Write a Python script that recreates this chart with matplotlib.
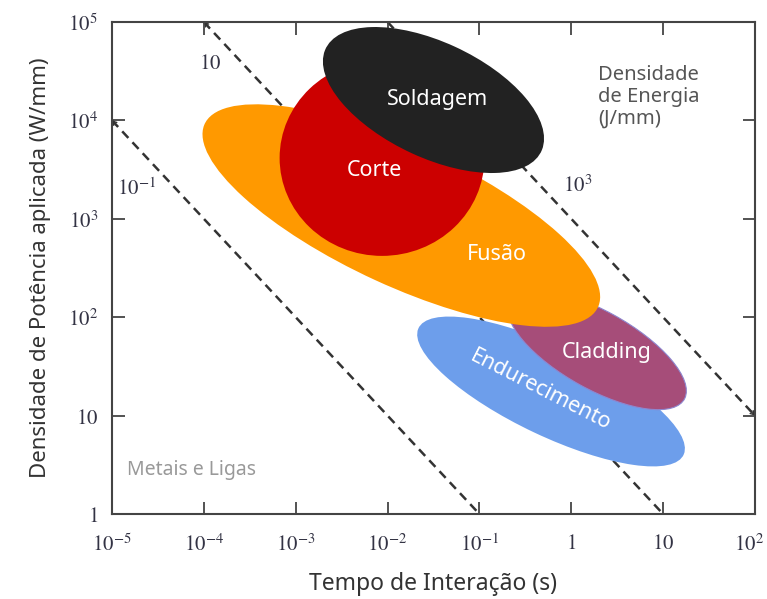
import numpy as np
import matplotlib
matplotlib.use('Agg')
import matplotlib.pyplot as plt
import matplotlib.transforms as mtransforms
from matplotlib.patches import Ellipse

# Axis ranges in decades (log10 of the quantity)
t_decades = [-5, -4, -3, -2, -1, 0, 1, 2]
p_decades = [0, 1, 2, 3, 4, 5]
t_labels = ['$10^{-5}$', '$10^{-4}$', '$10^{-3}$', '$10^{-2}$', '$10^{-1}$', '$1$', '$10$', '$10^{2}$']
p_labels = ['$1$', '$10$', '$10^{2}$', '$10^{3}$', '$10^{4}$', '$10^{5}$']

# Process regions: centre (log t, log P), full width/height in decades, tilt (deg)
processes = ['Endurecimento', 'Cladding', 'Fusão', 'Corte', 'Soldagem']
centre_logt = [-0.22, 0.28, -1.85, -2.06, -1.50]
centre_logp = [1.245, 1.667, 3.033, 3.618, 4.207]
width_dec = [3.16, 2.15, 4.67, 2.23, 2.57]
height_dec = [0.91, 0.80, 1.43, 1.99, 1.18]
tilt_deg = [-23.8, -27.2, -23.2, 0.0, -23.2]
colors = ['#6D9EEB', '#A64D79', '#FF9900', '#CC0000', '#222222']
edges = ['none', '#8E86CF', 'none', 'none', 'none']

# Label anchor for each region
label_logt = [-0.34, 0.39, -0.81, -2.14, -1.46]
label_logp = [1.26, 1.646, 2.642, 3.486, 4.217]
label_rot = [-27, 0, 0, 0, 0]

# Constant energy density lines (J/mm): P * t = E
energy = [0.1, 10, 1000]
energy_txt = ['$10^{-1}$', '$10$', '$10^{3}$']
energy_txt_logt = [-4.73, -3.93, 0.07]
energy_txt_logp = [3.31, 4.58, 3.34]
# which end of each line carries a small arrow head ('start' = upper left)
energy_head = ['start', 'start', 'end']

plt.rcParams['mathtext.fontset'] = 'stix'
sans = ['Noto Sans', 'DejaVu Sans']

fig = plt.figure(figsize=(7.67, 5.99), dpi=100)
ax = fig.add_axes([0.146, 0.1419, 0.8383, 0.8214])
ax.set_xlim(-5, 2)
ax.set_ylim(0, 5)

# dashed iso-energy lines, clipped to the plot window
for e, head in zip(energy, energy_head):
    le = np.log10(e)
    x0, x1 = max(-5, le - 5), min(2, le)
    xs = np.linspace(x0, x1, 50)
    ax.plot(xs, le - xs, color='#333333', lw=1.8, dashes=(3.6, 2.4), zorder=1)
    d = 0.06
    xa, xb = (x0 + d, x0) if head == 'start' else (x1 - d, x1)
    ax.annotate('', xy=(xb, le - xb), xytext=(xa, le - xa),
                arrowprops=dict(arrowstyle='->,head_length=0.25,head_width=0.15',
                                color='#333333', lw=1.0, shrinkA=0, shrinkB=0),
                zorder=1)
for s, x, y in zip(energy_txt, energy_txt_logt, energy_txt_logp):
    ax.text(x, y, s, fontsize=15, color='#333344', ha='center', va='center', zorder=1)

for i, name in enumerate(processes):
    ax.add_patch(Ellipse((centre_logt[i], centre_logp[i]), width_dec[i], height_dec[i],
                         angle=tilt_deg[i], facecolor=colors[i], edgecolor=edges[i],
                         lw=0.8, zorder=2 + i))
    ax.text(label_logt[i], label_logp[i], name, rotation=label_rot[i], rotation_mode='anchor',
            fontsize=15.5, color='white', ha='center', va='center', family=sans, zorder=10)

ax.text(0.29, 4.56, 'Densidade\nde Energia\n(J/mm)', fontsize=14.5, color='#555555',
        ha='left', va='top', linespacing=1.1, family=sans)
ax.text(-4.84, 0.45, 'Metais e Ligas', fontsize=14, color='#999999',
        ha='left', va='center', family=sans)

ax.set_xticks(t_decades)
ax.set_xticklabels(t_labels)
ax.set_yticks(p_decades)
ax.set_yticklabels(p_labels)
ax.tick_params(direction='in', length=9, width=1.3, color='#444444', labelsize=15,
               labelcolor='#333344', top=True, right=True, pad=10)
ax.tick_params(axis='x', pad=14)
# keep the last time label inside the canvas
last = ax.get_xticklabels()[-1]
last.set_transform(last.get_transform() +
                   mtransforms.ScaledTranslation(-6 / 100, 0, fig.dpi_scale_trans))
for sp in ax.spines.values():
    sp.set_color('#444444')
    sp.set_linewidth(1.5)

ax.set_xlabel('Tempo de Interação (s)', fontsize=16.5, color='#333333', family=sans, labelpad=12)
ax.set_ylabel('Densidade de Potência aplicada (W/mm)', fontsize=16, color='#333333',
              family=sans, labelpad=12)

fig.savefig('out.png', dpi=100)
